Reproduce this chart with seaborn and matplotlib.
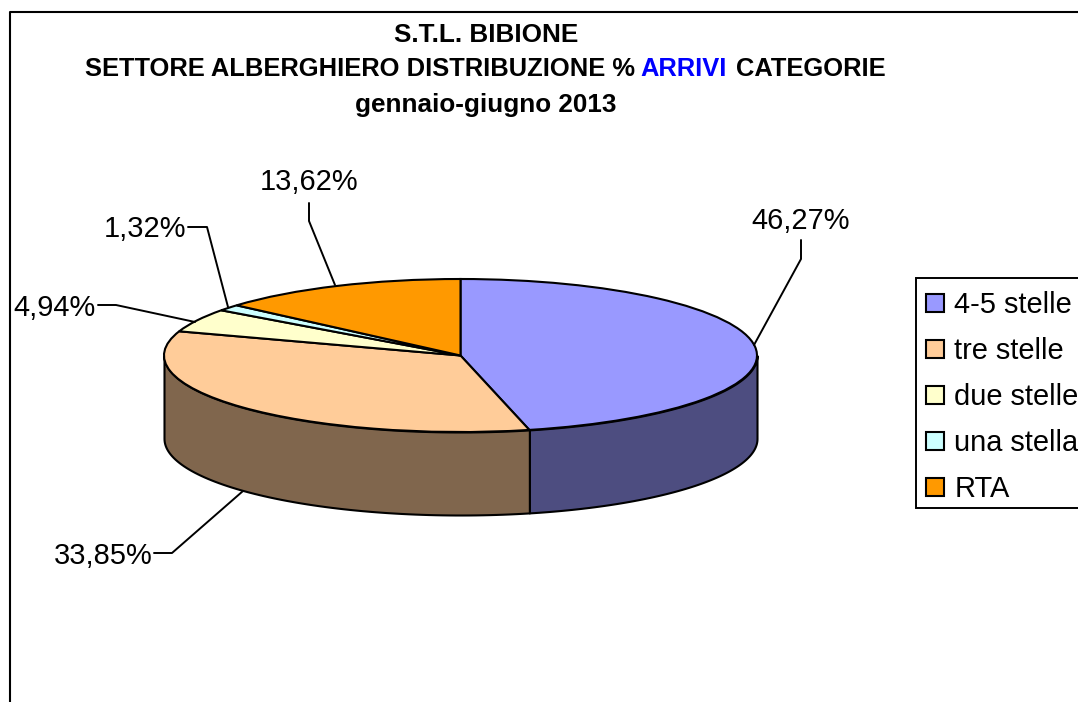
import numpy as np
import matplotlib
matplotlib.use('Agg')
import matplotlib.pyplot as plt
from matplotlib.patches import Rectangle
import seaborn as sns

categories = ['4-5 stelle', 'tre stelle', 'due stelle', 'una stella', 'RTA']
values = [46.27, 33.85, 4.94, 1.32, 13.62]
colors = ['#9999FF', '#FFCC99', '#FFFFCC', '#CCFFFF', '#FF9900']

sns.set_theme(style='white')
plt.rcParams['font.family'] = ['Liberation Sans', 'DejaVu Sans']
plt.rcParams['text.color'] = 'black'

W, H = 1078, 702
cx, cy, rx, ry, depth = 460.5, 355.5, 296.5, 76.5, 83

fig = plt.figure(figsize=(W / 100, H / 100), dpi=100, facecolor='white')

# pie axes: unit circle squashed to an ellipse
ax = fig.add_axes([0, 0, 1, 1])
wedges, _ = ax.pie(values, colors=colors, startangle=90, counterclock=False,
                   wedgeprops={'edgecolor': 'black', 'linewidth': 1.5, 'zorder': 3})
ax.set_aspect('auto')
ax.set_xlim(-cx / rx, (W - cx) / rx)
ax.set_ylim((cy - H) / ry, cy / ry)
ax.axis('off')

# side wall, only the front half of the ellipse shows
ends = 90 - 360 * np.cumsum(values) / np.sum(values)
starts = np.r_[90, ends[:-1]]
for s, e, c in zip(starts, ends, colors):
    hi = min(s, 0)
    lo = max(e, -180)
    if lo >= hi:
        continue
    t = np.radians(np.linspace(lo, hi, 80))
    dark = tuple(0.5 * v for v in matplotlib.colors.to_rgb(c))
    ax.fill_between(np.cos(t), np.sin(t), np.sin(t) - depth / ry, color=dark,
                    edgecolor='black', linewidth=1.5, zorder=2)

# overlay in pixels for frame, text, leaders, legend
ov = fig.add_axes([0, 0, 1, 1], facecolor='none')
ov.set_xlim(0, W)
ov.set_ylim(H, 0)
ov.axis('off')

ov.plot([10, 10, W], [H, 12, 12], color='black', lw=1.5)

# title
ov.text(486, 35, 'S.T.L. BIBIONE', fontsize=18.8, fontweight='bold', ha='center', va='center')
ov.text(486, 105, 'gennaio-giugno 2013', fontsize=18.8, fontweight='bold', ha='center', va='center')
parts = [('SETTORE ALBERGHIERO DISTRIBUZIONE %', 'black', 85),
         ('ARRIVI', '#0000FF', 640),
         ('CATEGORIE', 'black', 736)]
for txt, col, x in parts:
    ov.text(x, 69, txt, color=col, fontsize=18.35, fontweight='bold', ha='left', va='center')

# data labels and leader lines
label_pos = [(800.5, 221), (103, 556), (54.5, 308), (145.5, 229), (309.5, 182)]
leaders = [
    [(801, 240), (801, 259), (754, 345)],
    [(154, 553), (172, 553), (243, 491)],
    [(98, 305), (116, 305), (195, 322)],
    [(188, 227), (207, 227), (228, 307)],
    [(309, 203), (309, 221), (335, 285)],
]
for v, (lx, ly), pts in zip(values, label_pos, leaders):
    ov.text(lx, ly, f'{v:.2f}'.replace('.', ',') + '%', fontsize=20.9, ha='center', va='center')
    xs, ys = zip(*pts)
    ov.plot(xs, ys, color='black', lw=1.4)

# legend frame runs off the right edge of the picture
ov.add_patch(Rectangle((916, 278), 200, 230, facecolor='white', edgecolor='black', lw=1.4))
leg = ov.legend(wedges, categories, loc='upper left', bbox_to_anchor=(916, 281),
                bbox_transform=ov.transData, borderaxespad=0, fontsize=20.9,
                frameon=False, handlelength=0.62, handleheight=0.62, handletextpad=0.35,
                borderpad=0.35, labelspacing=0.62)

fig.savefig('out.png', dpi=100, facecolor='white')
